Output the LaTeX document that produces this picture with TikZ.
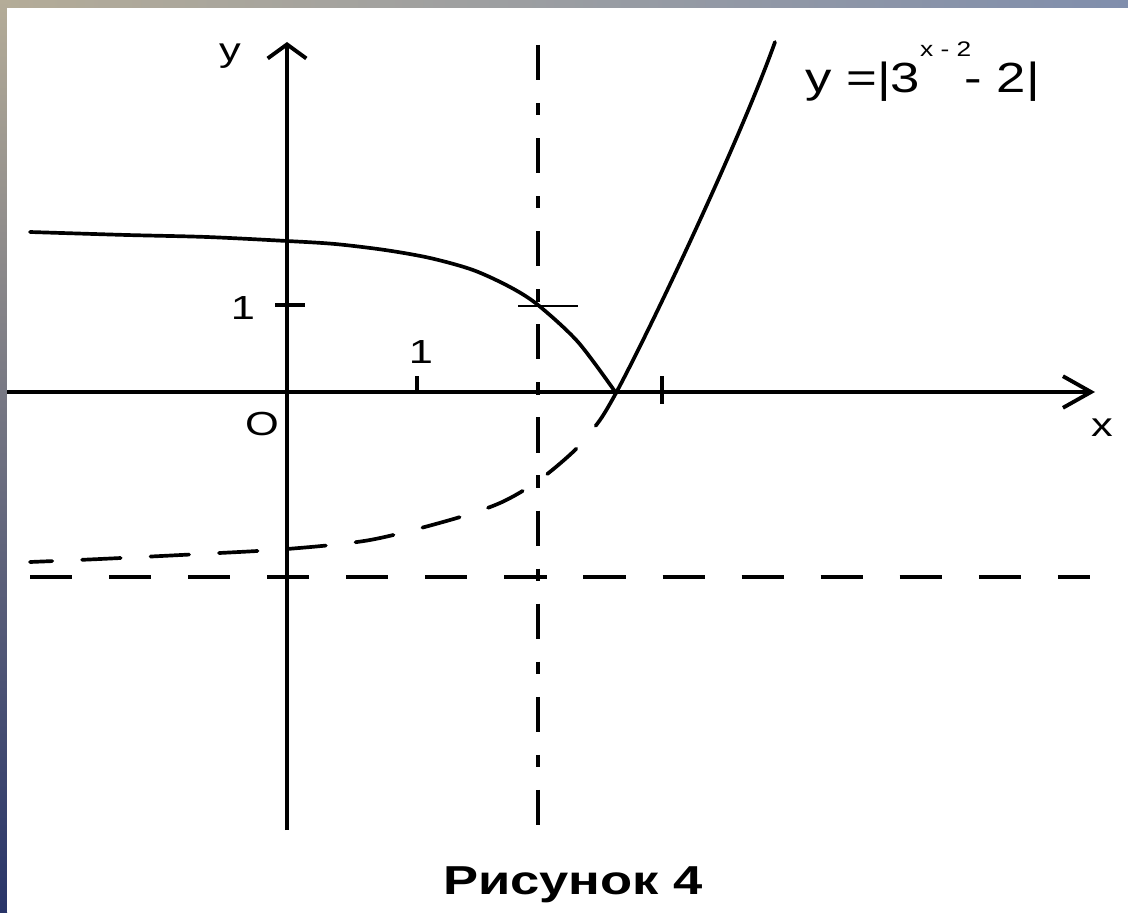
\documentclass[tikz,border=0pt]{standalone}
\usepackage{fontspec}
\setmainfont{Liberation Sans}
\usetikzlibrary{arrows.meta}
\definecolor{frametan}{RGB}{180,172,152}
\definecolor{frametop}{RGB}{128,142,172}
\definecolor{frameteal}{RGB}{80,140,190}
\definecolor{framenavy}{RGB}{40,52,104}
\newcommand{\wide}[1]{\scalebox{1.3}[1]{#1}}

\begin{document}
\begin{tikzpicture}[x=0.02cm,y=-0.02cm,
    axis/.style={line width=2.2pt},
    graph/.style={line width=2.1pt,line join=round,line cap=round},
    asymh/.style={line width=2.8pt,dash pattern=on 24pt off 21pt},
    asymv/.style={line width=2.6pt,dash pattern=on 20pt off 13pt on 7pt off 13pt},
    lbl/.style={font=\fontsize{19}{22}\selectfont,inner sep=0pt}]
    \useasboundingbox (0,0) rectangle (1128,912);
    % frame
    \shade[left color=frametan, right color=frametop] (0,0) rectangle (1128,8);
    \shade[top color=frametan, middle color=frameteal, bottom color=framenavy]
      (0,0) rectangle (7,912);
    \fill[white] (7,8) rectangle (1128,912);

    \coordinate (xl) at (7,392);
    \coordinate (xr) at (1095,392);
    \coordinate (yb) at (287,830);
    \coordinate (yt) at (287,42);
    \coordinate (vt) at (538,45);
    \coordinate (vb) at (538,835);
    \coordinate (hl) at (30,577);
    \coordinate (hr) at (1090,577);

    % asymptotes
    \draw[asymv] (vt) -- (vb);
    \draw[asymh] (hl) -- (hr);

    % axes
    \draw[axis,-{Straight Barb[length=16pt,width=18pt]}] (xl) -- (xr);
    \draw[axis,-{Straight Barb[length=8pt,width=22pt]}] (yb) -- (yt);
    \node[lbl] (xlab) at (1102,428) {\wide{x}};
    \node[lbl] (ylab) at (230,56) {\wide{y}};
    \node[lbl] (olab) at (262,424) {\wide{O}};

    % ticks
    \coordinate (ty1a) at (275,305);
    \coordinate (ty1b) at (305,305);
    \draw[axis] (ty1a) -- (ty1b);
    \node[lbl] (ty1) at (243,308) {\wide{1}};
    \coordinate (tx1a) at (417,376);
    \coordinate (tx1b) at (417,392);
    \draw[axis] (tx1a) -- (tx1b);
    \node[lbl] (tx1) at (421,352) {\wide{1}};
    \coordinate (tx3a) at (662,376);
    \coordinate (tx3b) at (662,404);
    \draw[axis] (tx3a) -- (tx3b);
    \coordinate (ma) at (518,306);
    \coordinate (mb) at (578,306);
    \draw[line width=1.4pt] (ma) -- (mb);

    % graph
    \draw[graph] plot[smooth] coordinates {(30,232) (127,235) (207,237) (287,241)
      (335,244) (385,250) (430,258) (473,270) (510,287) (538,305) (578,342) (616,393)};
    \draw[graph] (616,393) .. controls (650,330) and (740,140) .. (775,42);
    \draw[graph,dash pattern=on 22pt off 17pt] plot[smooth] coordinates {(616,393) (600,420)
      (575,450) (538,481) (500,503) (450,520) (370,540) (287,549) (200,554) (100,559) (30,562)};

    \node[font=\fontsize{24}{28}\selectfont,anchor=base west,inner sep=0pt] (eqn) at (805,93)
      {\scalebox{1.25}[1]{y =|3\raisebox{21pt}{\fontsize{12}{14}\selectfont x - 2}\hspace{-3pt}- 2|}};
    \node[font=\bfseries\fontsize{23}{27}\selectfont] (cap) at (573,885) {\wide{Рисунок 4}};
\end{tikzpicture}
\end{document}
